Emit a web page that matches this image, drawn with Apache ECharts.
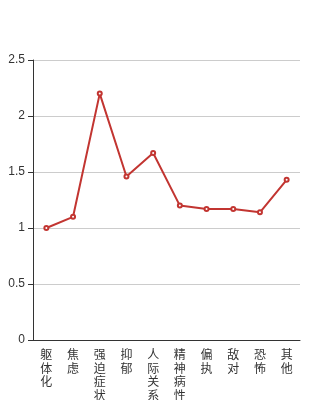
<!DOCTYPE html>
<html><head><meta charset="utf-8">
<script src="https://cdn.jsdelivr.net/npm/echarts@6/dist/echarts.min.js"></script>
<style>html,body{margin:0;padding:0;background:#fff}#c{width:334px;height:400px}</style>
</head><body><div id="c"></div>
<script>
var categories = ['躯体化','焦虑','强迫症状','抑郁','人际关系敏感','精神病性','偏执','敌对','恐怖','其他'];
var values = [1.0, 1.1, 2.2, 1.46, 1.67, 1.2, 1.17, 1.17, 1.14, 1.43];
var yTicks = {min: 0, max: 2.5, interval: 0.5};
var chart = echarts.init(document.getElementById('c'));
chart.setOption({
  animation: false,
  grid: {left: 33, right: 34, top: 60, bottom: 60, containLabel: false, outerBoundsMode: 'none'},
  xAxis: {
    type: 'category', data: categories, boundaryGap: true,
    axisLine: {lineStyle: {color: '#333'}},
    axisTick: {lineStyle: {color: '#333'}},
    axisLabel: {color: '#333', fontSize: 12, lineHeight: 13.5, interval: 0,
      fontFamily: 'Noto Sans CJK SC',
      formatter: function (v) { return v.split('').join('\n'); }}
  },
  yAxis: {
    type: 'value', min: yTicks.min, max: yTicks.max, interval: yTicks.interval,
    axisLine: {show: true, lineStyle: {color: '#333'}},
    axisTick: {show: true, lineStyle: {color: '#333'}},
    axisLabel: {color: '#333', fontSize: 12, fontFamily: 'Liberation Sans'},
    splitLine: {lineStyle: {color: '#ccc'}}
  },
  series: [{
    type: 'line', data: values, symbol: 'emptyCircle', symbolSize: 4,
    itemStyle: {color: '#c23531'},
    lineStyle: {color: '#c23531', width: 2}
  }]
});
</script></body></html>
